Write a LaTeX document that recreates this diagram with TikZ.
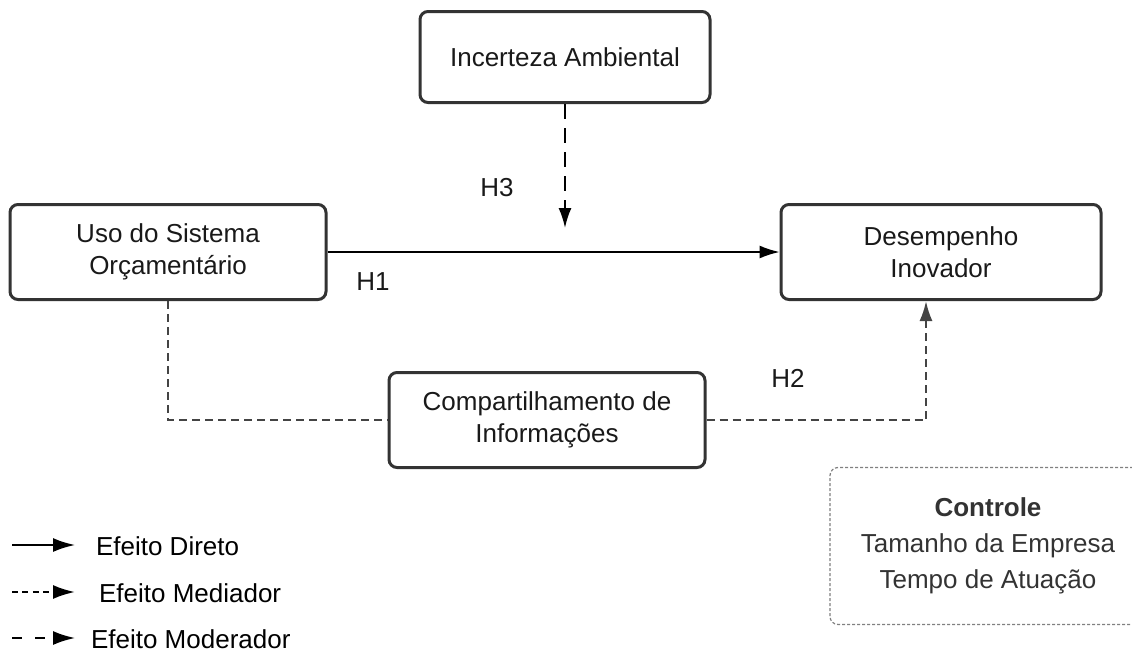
\documentclass[tikz,border=0pt]{standalone}
\usepackage{fontspec}
\setmainfont{Liberation Sans}
\usetikzlibrary{arrows.meta,positioning}
\definecolor{linegray}{HTML}{333333}
\definecolor{dashgray}{HTML}{444444}
\begin{document}
\begin{tikzpicture}[
	x=0.5pt,
	y=-0.5pt,
	font=\fontsize{13}{16}\selectfont,
	block/.style={
		rectangle,
		draw=linegray,
		line width=1.5pt,
		rounded corners=4pt,
		align=center,
		text=black!90,
		minimum width=158pt,
		minimum height=47.5pt
	},
	ctrlbox/.style={
		rectangle,
		draw=gray,
		line width=0.6pt,
		dash pattern=on 1.5pt off 1pt,
		rounded corners=4pt,
		align=center,
		text=linegray,
		font=\fontsize{13}{18}\selectfont,
		minimum width=158pt,
		minimum height=78.5pt
	},
	direct/.style={
		draw=black,
		line width=0.8pt,
		-{Latex[length=10pt,width=6.5pt]}
	},
	mediator/.style={
		draw=dashgray,
		line width=1.1pt,
		dash pattern=on 4pt off 2.5pt
	},
	moderator/.style={
		draw=black,
		line width=1pt,
		dash pattern=on 7.5pt off 4.5pt,
		-{Latex[length=10pt,width=6.5pt]}
	},
	hlabel/.style={
		text=black!90
	},
]

\useasboundingbox (0,0) rectangle (1132,653);

\node[block, minimum width=145pt, minimum height=45.5pt] (inc) at (565,57) {Incerteza Ambiental};
\node[block] (uso) at (168,252) {Uso do Sistema\\Orçamentário};
\node[block, minimum width=160pt] (desemp) at (941,252) {Desempenho\\Inovador};
\node[block] (comp) at (547,420) {Compartilhamento de\\Informações};

\node[ctrlbox] (ctrl) at (988,546) {\textbf{Controle}\\Tamanho da Empresa\\Tempo de Atuação};

% caminhos
\draw[direct] (uso.east) -- (desemp.west);
\coordinate (modtip) at (565,228);
\draw[moderator] (inc.south) -- (modtip);
\draw[mediator] (uso.south) |- (comp.west);
\draw[mediator, -{Latex[length=10pt,width=6.5pt]}] (comp.east) -| ([xshift=-7.5pt]desemp.south);

\node[hlabel] (h1) at (373,282) {H1};
\node[hlabel] (h2) at (788,378) {H2};
\node[hlabel] (h3) at (497,188) {H3};

% legenda
\foreach \sty/\txt/\y/\tx in {direct/Efeito Direto/545/89, mediator/Efeito Mediador/592/92, moderator/Efeito Moderador/638/84} {
	\coordinate (leg\y a) at (12,\y);
	\coordinate (leg\y b) at (75,\y);
	\node[anchor=west] (legtxt\y) at (\tx,\y+1) {\txt};
}
\draw[direct, line width=1pt, -{Latex[length=11pt,width=7pt]}] (leg545a) -- (leg545b);
\draw[mediator, draw=black, dash pattern=on 3pt off 2.2pt, -{Latex[length=11pt,width=7pt]}] (leg592a) -- (leg592b);
\draw[moderator, dash pattern=on 5pt off 6.5pt, -{Latex[length=11pt,width=7pt]}] (leg638a) -- (leg638b);

\end{tikzpicture}
\end{document}
